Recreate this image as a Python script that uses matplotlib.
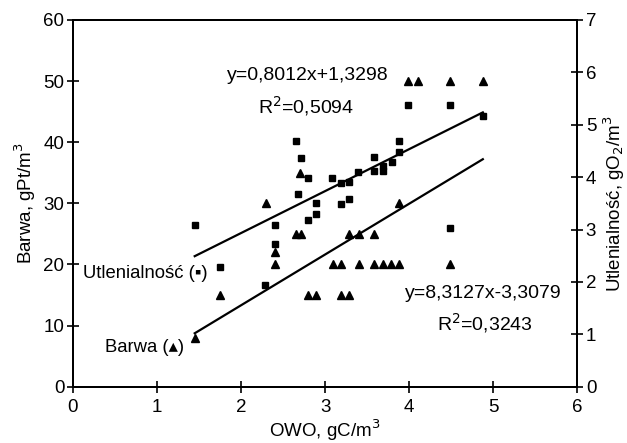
import matplotlib
matplotlib.use("Agg")
import matplotlib.pyplot as plt
import numpy as np

plt.rcParams['font.family'] = ['Liberation Sans', 'DejaVu Sans']

# Barwa (triangles, left axis)
barwa_x = [1.45, 1.75, 2.30, 2.41, 2.41, 2.65, 2.71, 2.70, 2.80, 2.89,
           3.09, 3.19, 3.19, 3.29, 3.29, 3.40, 3.40, 3.58, 3.58, 3.69,
           3.78, 3.88, 3.88, 3.98, 4.10, 4.49, 4.49, 4.875]
barwa_y = [8, 15, 30, 22, 20, 25, 25, 35, 15, 15,
           20, 20, 15, 25, 15, 25, 20, 25, 20, 20,
           20, 20, 30, 50, 50, 50, 20, 50]

# Utlenialność (squares, right axis)
utl_x = [1.45, 1.75, 2.29, 2.40, 2.40, 2.65, 2.71, 2.68, 2.80, 2.80,
         2.89, 2.89, 3.08, 3.19, 3.19, 3.29, 3.29, 3.39, 3.58, 3.58,
         3.69, 3.69, 3.79, 3.88, 3.88, 3.98, 4.49, 4.49, 4.875]
utl_y = [3.09, 2.29, 1.95, 3.09, 2.72, 4.69, 4.37, 3.68, 3.98, 3.19,
         3.30, 3.51, 3.98, 3.89, 3.49, 3.91, 3.58, 4.09, 4.39, 4.12,
         4.12, 4.22, 4.29, 4.69, 4.48, 5.37, 5.37, 3.03, 5.17]

# trend-line coefficients (as printed on chart)
barwa_coef = (8.3127, -3.3079)
utl_coef = (0.8012, 1.3298)

x_ticks = [0, 1, 2, 3, 4, 5, 6]
left_ticks = [0, 10, 20, 30, 40, 50, 60]
right_ticks = [0, 1, 2, 3, 4, 5, 6, 7]

fig = plt.figure(figsize=(6.27, 4.43), dpi=100)
ax = fig.add_axes([0.116, 0.127, 0.805, 0.828])
ax2 = ax.twinx()

ax.plot(barwa_x, barwa_y, linestyle='none', marker='^', ms=6, color='black')
xb = np.array([min(barwa_x), max(barwa_x)])
ax.plot(xb, barwa_coef[0] * xb + barwa_coef[1], color='black', lw=1.6)

ax2.plot(utl_x, utl_y, linestyle='none', marker='s', ms=4.7, color='black')
xu = np.array([min(utl_x), max(utl_x)])
ax2.plot(xu, utl_coef[0] * xu + utl_coef[1], color='black', lw=1.6)

ax.set_xlim(0, 6)
ax.set_ylim(0, 60)
ax2.set_ylim(0, 7)
ax.set_xticks(x_ticks)
ax.set_yticks(left_ticks)
ax2.set_yticks(right_ticks)

for a in (ax, ax2):
    for s in a.spines.values():
        s.set_linewidth(1.4)
    a.tick_params(direction='inout', length=8, width=1.2, labelsize=13.5, pad=2)
ax.tick_params(axis='x', pad=5)

ax.set_xlabel('OWO, gC/m$^3$', fontsize=13.5, labelpad=1)
ax.set_ylabel('Barwa, gPt/m$^3$', fontsize=13.5, labelpad=4)
ax2.set_ylabel('Utlenialność, gO$_2$/m$^3$', fontsize=13.5, labelpad=4)


def px_text(px, py, s, size, ha='center'):
    fig.text(px / 627, 1 - py / 443, s, ha=ha, va='center', fontsize=size)


px_text(308, 76, 'y=0,8012x+1,3298', 14)
px_text(306, 106, 'R$^2$=0,5094', 14)
px_text(483, 293, 'y=8,3127x-3,3079', 14)
px_text(485, 323, 'R$^2$=0,3243', 14)
px_text(83, 274, 'Utlenialność (\u25aa)', 13.3, ha='left')
px_text(105, 347, 'Barwa (\u25b4)', 13.3, ha='left')

fig.savefig('out.png', dpi=100)
